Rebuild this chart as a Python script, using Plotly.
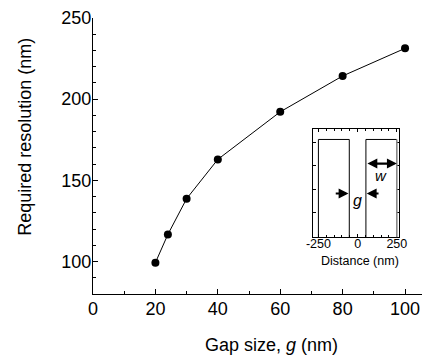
import plotly.graph_objects as go

# Data
gap_nm = [20, 24, 30, 40, 60, 80, 100]
required_resolution_nm = [99.3, 116.7, 138.7, 162.9, 192.2, 214.3, 231.3]

x_tickvals = [0, 20, 40, 60, 80, 100]
y_tickvals = [100, 150, 200, 250]
inset_x_tickvals = [-250, 0, 250]
inset_x_ticktext = ["-250", "0", "250"]

# Inset electrode geometry (nm)
electrode_outer = 250
electrode_inner = 53

OFF = 8  # default page body margin
W, H = 430 - OFF, 358 - OFF
L, R, T, B = 92.75 - OFF, 0, 18.3 - OFF, H - (294 - OFF)
FONT = "Arial, Liberation Sans, Helvetica, sans-serif"

pw = W - L - R
ph = H - T - B

def px_to_paper_x(p):
    return (p - OFF - L) / pw

def px_to_paper_y(p):
    return (H - B - (p - OFF)) / ph

fig = go.Figure()
fig.add_trace(go.Scatter(
    x=gap_nm, y=required_resolution_nm, mode="lines+markers",
    line=dict(color="black", width=1),
    marker=dict(color="black", size=8),
    xaxis="x", yaxis="y", showlegend=False, cliponaxis=False))

axis_common = dict(showgrid=False, zeroline=False, ticks="inside", automargin=False,
                   linecolor="black", tickcolor="black", color="black")

fig.update_layout(
    template="none",
    width=W, height=H,
    margin=dict(l=L, r=R, t=T, b=B, pad=0, autoexpand=False),
    paper_bgcolor="white", plot_bgcolor="white",
    font=dict(family=FONT, size=18, color="black"),
    xaxis=dict(range=[0, 108], tickvals=x_tickvals, showline=True, linewidth=1.3,
               ticklen=5, tickwidth=1, minor=dict(dtick=10, ticklen=3, ticks="inside", tickcolor="black"),
               tickfont=dict(size=18), ticklabelstandoff=-2, domain=[0, 1], anchor="y", **axis_common),
    xaxis3=dict(range=[0, 108], tickvals=x_tickvals, showline=True, linewidth=1.3,
                ticklen=5, tickwidth=1, minor=dict(dtick=10, ticklen=3, ticks="inside", tickcolor="black"),
                showticklabels=False, overlaying="x", side="top", anchor="y", **axis_common),
    yaxis=dict(range=[80, 250], tickvals=y_tickvals, showline=True, linewidth=1.3,
               ticklen=5, tickwidth=1, minor=dict(dtick=10, ticklen=3, ticks="inside", tickcolor="black"),
               tickfont=dict(size=18), ticklabelstandoff=-3, domain=[0, 1], anchor="x", **axis_common),
)

# Inset axes
ix0, ix1 = px_to_paper_x(313.3), px_to_paper_x(399.3)
iy0, iy1 = px_to_paper_y(237.3), px_to_paper_y(129.3)
fig.update_layout(
    xaxis2=dict(domain=[ix0, ix1], anchor="y2", range=[-282, 266],
                tickvals=inset_x_tickvals, ticktext=inset_x_ticktext,
                showline=True, mirror="ticks", linewidth=1, ticklen=3, tickwidth=1,
                minor=dict(dtick=50, ticklen=2, ticks="inside", tickcolor="black"),
                tickfont=dict(size=12.5), ticklabelstandoff=-5, **axis_common),
    yaxis2=dict(domain=[iy0, iy1], anchor="x2", range=[-0.05, 4.55],
                tickvals=[1, 2, 3, 4], showticklabels=False,
                showline=True, mirror="ticks", linewidth=1, ticklen=3, tickwidth=1,
                **axis_common),
)
# invisible trace to activate the inset axes
fig.add_trace(go.Scatter(x=[0], y=[0], mode="markers", marker=dict(opacity=0),
                         xaxis="x2", yaxis="y2", showlegend=False, hoverinfo="skip"))

top = 4.11
bot = -0.05
fig.add_shape(type="path", xref="x2", yref="y2",
              path=f"M {-electrode_outer},{bot} L {-electrode_outer},{top} L {-electrode_inner},{top} L {-electrode_inner},{bot}",
              line=dict(color="black", width=1))
fig.add_shape(type="path", xref="x2", yref="y2",
              path=f"M {electrode_inner},{bot} L {electrode_inner},{top} L {electrode_outer},{top}",
              line=dict(color="black", width=1))
fig.add_shape(type="line", xref="x2", yref="y2", x0=electrode_outer, x1=electrode_outer,
              y0=top, y1=bot, line=dict(color="#888888", width=1.6))

# arrows
arrow = dict(xref="x2", yref="y2", axref="x2", ayref="y2", showarrow=True,
             arrowcolor="black", arrowwidth=2.2, arrowhead=2, arrowsize=0.9, text="")
fig.add_annotation(x=electrode_outer, y=3.085, ax=electrode_inner, ay=3.085,
                   arrowside="end+start", **arrow)
fig.add_annotation(x=-electrode_inner - 5, y=1.81, ax=-149, ay=1.81, **arrow)
fig.add_annotation(x=electrode_inner + 5, y=1.81, ax=143, ay=1.81, **arrow)
fig.add_annotation(x=150, y=2.59, xref="x2", yref="y2", text="<i>w</i>", showarrow=False,
                   xanchor="center", yanchor="middle", font=dict(size=15, family=FONT))
fig.add_annotation(x=0, y=1.53, xref="x2", yref="y2", text="<i>g</i>", showarrow=False,
                   xanchor="center", yanchor="middle", font=dict(size=16, family=FONT))

# titles
fig.add_annotation(x=px_to_paper_x(359.8), y=px_to_paper_y(261), xref="paper", yref="paper",
                   text="Distance (nm)", showarrow=False, xanchor="center", yanchor="middle",
                   font=dict(size=12.5, family=FONT))
fig.add_annotation(x=px_to_paper_x(271.7), y=px_to_paper_y(345), xref="paper", yref="paper",
                   text="Gap size, <i>g</i> (nm)", showarrow=False, xanchor="center", yanchor="middle",
                   font=dict(size=18, family=FONT))
fig.add_annotation(x=px_to_paper_x(24), y=px_to_paper_y(136.7), xref="paper", yref="paper",
                   text="Required resolution (nm)", textangle=-90, showarrow=False,
                   xanchor="center", yanchor="middle", font=dict(size=18, family=FONT))

fig.write_html("out.html")
